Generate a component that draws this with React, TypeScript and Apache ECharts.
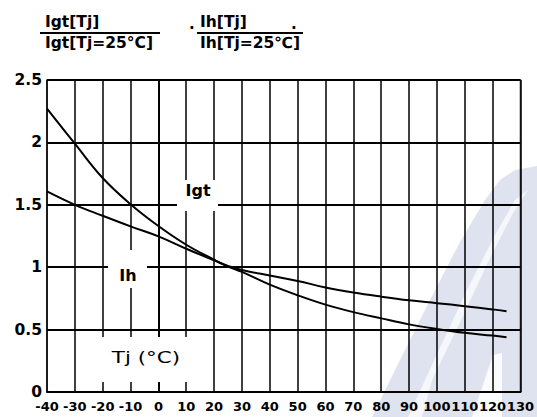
import React, { useEffect, useRef } from "react";
import * as echarts from "echarts";

const temps = [-40, -30, -20, -10, 0, 10, 20, 25, 30, 40, 50, 60, 70, 80, 90, 100, 110, 120, 125];
const igtRatio = [2.27, 1.99, 1.715, 1.505, 1.33, 1.18, 1.06, 1.005, 0.962, 0.86, 0.775, 0.7, 0.64, 0.59, 0.542, 0.505, 0.474, 0.452, 0.438];
const ihRatio = [1.607, 1.5, 1.412, 1.327, 1.247, 1.148, 1.055, 1.01, 0.978, 0.933, 0.89, 0.838, 0.797, 0.764, 0.735, 0.712, 0.688, 0.662, 0.647];
const xTicks = { min: -40, max: 130, interval: 10 };
const yTicks = { min: 0, max: 2.5, interval: 0.5 };

const FONT = "DejaVu Sans";

export default function App() {
  const ref = useRef<HTMLDivElement>(null);
  useEffect(() => {
    if (!ref.current) return;
    const chart = echarts.init(ref.current, undefined, { renderer: "svg" });
    const pair = (ys: number[]) => temps.map((t, i) => [t, ys[i]]);
    const txt = (x: number, y: number, text: string, size: number, weight: string, align = "left", scaleX = 1) => ({
      type: "text",
      x,
      y,
      scaleX,
      z: 120,
      style: { text, fill: "#000", font: `${weight} ${size}px "${FONT}"`, align, verticalAlign: "middle" },
    });
    chart.setOption({
      animation: false,
      backgroundColor: "#fff",
      grid: { left: 47, top: 80, right: 14, bottom: 25, show: true, borderColor: "#444", borderWidth: 1.5, backgroundColor: "transparent" },
      xAxis: {
        type: "value",
        min: xTicks.min,
        max: xTicks.max,
        interval: xTicks.interval,
        axisLine: { show: true, lineStyle: { color: "#000", width: 2 } },
        axisTick: { show: false },
        splitLine: { show: true, lineStyle: { color: "#000", width: 1.5 } },
        axisLabel: { color: "#000", fontFamily: FONT, fontWeight: "bold", fontSize: 13, lineHeight: 12, margin: 8 },
      },
      yAxis: {
        type: "value",
        min: yTicks.min,
        max: yTicks.max,
        interval: yTicks.interval,
        axisLine: { show: true, lineStyle: { color: "#000", width: 2 } },
        axisTick: { show: false },
        splitLine: { show: true, lineStyle: { color: "#000", width: 2 } },
        axisLabel: { color: "#000", fontFamily: FONT, fontWeight: "bold", fontSize: 15.5, lineHeight: 13, margin: 5 },
      },
      series: [
        { type: "line", data: pair(igtRatio), smooth: 0.4, symbol: "none", lineStyle: { color: "#000", width: 2 }, z: 5 },
        { type: "line", data: pair(ihRatio), smooth: 0.4, symbol: "none", lineStyle: { color: "#000", width: 2 }, z: 5 },
      ],
      graphic: [
        {
          type: "polygon",
          z: -10,
          silent: true,
          shape: { points: [[372, 417], [400, 360], [430, 300], [460, 242], [485, 200], [500, 180], [515, 170], [537, 166], [537, 417]] },
          style: { fill: "#dfe3ef" },
        },
        {
          type: "polygon",
          z: -9,
          silent: true,
          shape: { points: [[408, 417], [438, 352], [468, 288], [495, 235], [515, 200], [528, 190], [512, 215], [490, 258], [462, 318], [432, 380], [422, 417]] },
          style: { fill: "#f6f7fb" },
        },
        {
          type: "polygon",
          z: -9,
          silent: true,
          shape: { points: [[472, 417], [493, 355], [502, 353], [502, 417]] },
          style: { fill: "#fbfcfd" },
        },
        // header fractions
        txt(45, 22, "Igt[Tj]", 15.5, "bold"),
        { type: "line", z: 120, shape: { x1: 40, y1: 33, x2: 160, y2: 33 }, style: { stroke: "#000", lineWidth: 2 } },
        txt(45, 43, "Igt[Tj=25°C]", 15.5, "bold"),
        txt(189, 24, ".", 15, "bold"),
        txt(200, 22, "Ih[Tj]", 15.5, "bold"),
        txt(291, 24, ".", 15, "bold"),
        { type: "line", z: 120, shape: { x1: 197, y1: 33, x2: 303, y2: 33 }, style: { stroke: "#000", lineWidth: 2 } },
        txt(200, 43, "Ih[Tj=25℃]", 15.5, "bold"),
        // in-plot labels with white boxes
        { type: "rect", z: 110, silent: true, shape: { x: 177, y: 180, width: 41, height: 31 }, style: { fill: "#fff" } },
        txt(198, 190, "Igt", 16, "bold", "center"),
        { type: "rect", z: 110, silent: true, shape: { x: 108, y: 250, width: 39, height: 38 }, style: { fill: "#fff" } },
        txt(128, 275, "Ih", 16, "bold", "center"),
        { type: "rect", z: 110, silent: true, shape: { x: 90, y: 337, width: 110, height: 45 }, style: { fill: "#fff" } },
        txt(146, 357, "Tj (°C)", 16.5, "normal", "center", 1.3),
      ],
    });
    return () => chart.dispose();
  }, []);
  return <div ref={ref} style={{ position: "fixed", left: 0, top: 0, width: 537, height: 417 }} />;
}
